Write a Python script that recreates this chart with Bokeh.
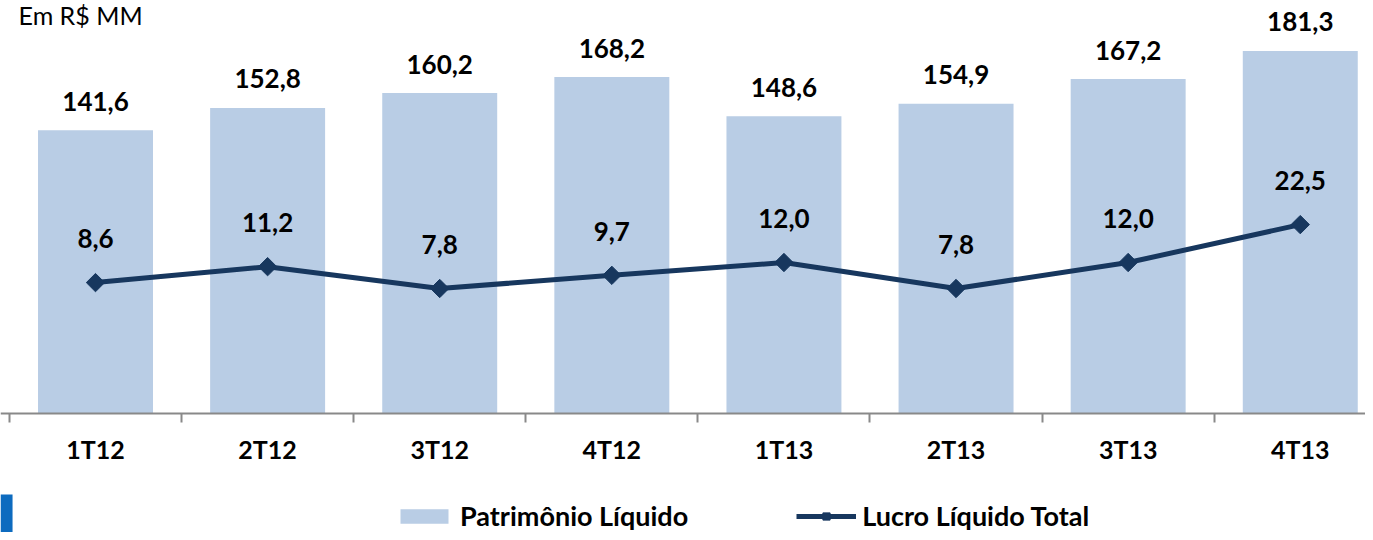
import numpy as np
from bokeh.plotting import figure
from bokeh.models import (Range1d, LogScale, LinearAxis, FixedTicker, Legend,
                          LegendItem, ColumnDataSource, Label, BoxAnnotation)
from bokeh.core.properties import value
from bokeh.embed import file_html
from bokeh.resources import INLINE

categories = ["1T12", "2T12", "3T12", "4T12", "1T13", "2T13", "3T13", "4T13"]
patrimonio = [141.6, 152.8, 160.2, 168.2, 148.6, 154.9, 167.2, 181.3]
lucro = [8.6, 11.2, 7.8, 9.7, 12.0, 7.8, 12.0, 22.5]
unit_label = "Em R$ MM"
legend_labels = ["Patrimônio Líquido", "Lucro Líquido Total"]


def fmt(v):
    return f"{v:.1f}".replace(".", ",")


BAR = "#B9CDE5"
NAVY = "#17375E"
AXIS = "#898989"
FONT = "Lato"

xs = list(range(len(categories)))
src = ColumnDataSource(dict(
    x=xs, pl=patrimonio, ll=lucro,
    pl_txt=[fmt(v) for v in patrimonio],
    ll_txt=[fmt(v) for v in lucro],
))

p = figure(width=1365, height=532, output_backend="svg", toolbar_location=None,
           x_range=Range1d(-0.552, 7.379), y_range=Range1d(-59.5, 206.5),
           x_axis_location=None, y_axis_location=None,
           min_border_left=0, min_border_right=0, min_border_top=0,
           min_border_bottom=0)
p.extra_y_ranges = {"ll": Range1d(0.1364, 925)}
p.extra_y_scales = {"ll": LogScale()}
p.grid.visible = False
p.outline_line_color = None

xaxis = LinearAxis(
    fixed_location=0,
    ticker=FixedTicker(ticks=xs, minor_ticks=[i - 0.5 for i in range(len(categories) + 1)]),
    major_label_overrides={i: c for i, c in enumerate(categories)},
    major_tick_out=0, major_tick_in=0,
    minor_tick_out=9, minor_tick_in=0,
    minor_tick_line_color=AXIS, minor_tick_line_width=2,
    axis_line_color=AXIS, axis_line_width=2,
    major_label_text_font=FONT, major_label_text_font_style="bold",
    major_label_text_font_size="25px", major_label_text_color="black",
    major_label_standoff=11,
)
p.add_layout(xaxis, "below")

bars = p.vbar(x="x", top="pl", width=0.668, source=src,
              fill_color=BAR, line_color=None)
line = p.line("x", "ll", source=src, y_range_name="ll",
              line_color=NAVY, line_width=5)
marks = p.scatter("x", "ll", source=src, y_range_name="ll", marker="square",
                  angle=np.pi / 4, size=13, fill_color=NAVY, line_color=NAVY)

p.text(x="x", y="pl", text="pl_txt", source=src, text_align="center",
       text_baseline="alphabetic", y_offset=-29, text_font=value(FONT),
       text_font_style="bold", text_font_size="26px", text_color="black")
p.text(x="x", y="ll", text="ll_txt", source=src, y_range_name="ll",
       text_align="center", text_baseline="alphabetic", y_offset=-44,
       text_font=value(FONT), text_font_style="bold", text_font_size="26px",
       text_color="black")

p.add_layout(Label(x=-0.447, y=199.5, text=unit_label, text_font=FONT,
                   text_font_size="25px", text_color="black",
                   text_baseline="alphabetic"))

p.add_layout(BoxAnnotation(left=-0.552, right=-0.482, bottom=-59.5, top=-40.5,
                           fill_color="#0D6BBF", fill_alpha=1, line_color=None))

legend = Legend(items=[LegendItem(label=legend_labels[0], renderers=[bars]),
                       LegendItem(label=legend_labels[1], renderers=[line, marks])],
                orientation="horizontal", location=(394, 0),
                glyph_width=60, glyph_height=18, label_standoff=6, spacing=108,
                padding=0, margin=0, border_line_color=None,
                background_fill_alpha=0,
                label_text_font=FONT, label_text_font_style="bold",
                label_text_font_size="27px", label_text_color="black")
p.add_layout(legend)

open("out.html", "w").write(file_html(p, INLINE))
